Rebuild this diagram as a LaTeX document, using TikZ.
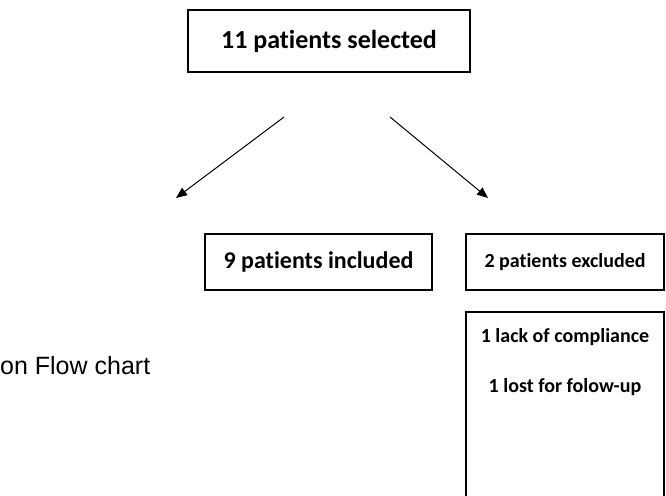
\documentclass[tikz,border=0pt]{standalone}
\usepackage{fontspec}
\setmainfont{Carlito}[Ligatures={NoCommon}]
\newfontfamily\arialfont{Liberation Sans}
\usetikzlibrary{arrows.meta}
\begin{document}
\begin{tikzpicture}[x=1pt,y=-1pt,
  box/.style={draw=black,line width=1.1pt,rectangle,inner sep=0pt,font=\bfseries\fontsize{20}{24}\selectfont},
  bigbox/.style={box,font=\bfseries\fontsize{24}{28}\selectfont},
  topbox/.style={box,font=\bfseries\fontsize{26}{30}\selectfont},
  boxtext/.style={inner sep=0pt,font=\bfseries\fontsize{20}{24}\selectfont},
  arr/.style={draw=black,line width=1pt,-{Triangle[length=11pt,width=9pt]}}]
\useasboundingbox (0,0) rectangle (666,495);
\node[topbox,minimum width=282,minimum height=62] (sel) at (329,41) {11 patients selected};
\node[bigbox,minimum width=227,minimum height=56] (inc) at (318.5,262) {9 patients included};
\node[box,minimum width=198,minimum height=56] (exc) at (565,262) {2 patients excluded};
\node[box,minimum width=198,minimum height=185] (rea) at (565,404.5) {};
\node[boxtext] (r1) at (565,337) {1 lack of compliance};
\node[boxtext] (r2) at (565,387) {1 lost for folow-up};
\node[inner sep=0pt,anchor=west,font=\arialfont\fontsize{25}{28}\selectfont] (cap) at (0,366) {on Flow chart};
\coordinate (a1s) at (284,117);
\coordinate (a1e) at (176,198);
\coordinate (a2s) at (390,117);
\coordinate (a2e) at (488,198);
\draw[arr] (a1s) -- (a1e);
\draw[arr] (a2s) -- (a2e);
\end{tikzpicture}
\end{document}
